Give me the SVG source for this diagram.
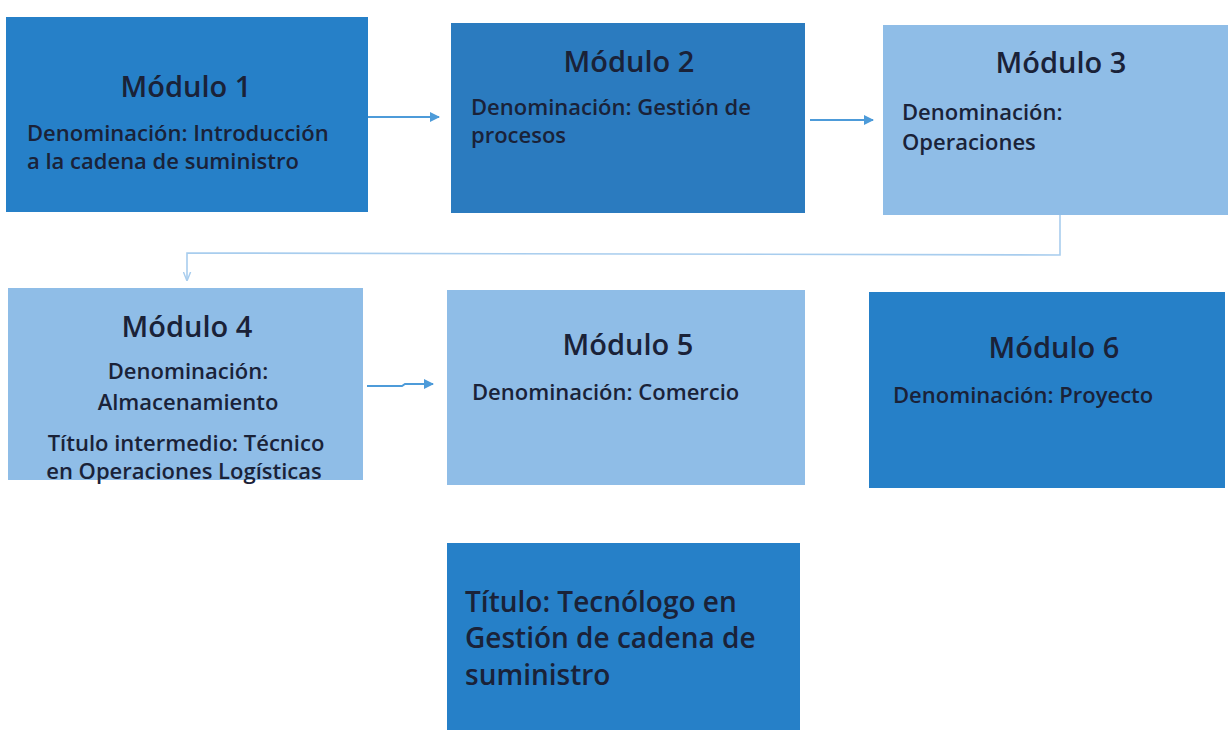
<svg xmlns="http://www.w3.org/2000/svg" width="1228" height="730" viewBox="0 0 1228 730">
<style>
.t{font-family:"Open Sans","Liberation Sans",sans-serif;fill:#1a2238;font-weight:600}
.h{font-size:29px;text-anchor:middle}
.b{font-size:22px}
.c{text-anchor:middle}
.big{font-size:28px}
.dark{fill:#2680c8}
.mid{fill:#2b7bbf}
.light{fill:#8fbde7}
.con{fill:none;stroke:#4d9bd9;stroke-width:2}
.con2{fill:none;stroke:#a8cdee;stroke-width:1.6}
</style>
<defs>
<marker id="ah" viewBox="0 0 10 10" refX="9" refY="5" markerWidth="11" markerHeight="10" orient="auto" markerUnits="userSpaceOnUse">
<path d="M0,0 L10,5 L0,10 Z" fill="#4d9bd9"/>
</marker>
<marker id="ah2" viewBox="0 0 10 10" refX="9" refY="5" markerWidth="9" markerHeight="9" orient="auto" markerUnits="userSpaceOnUse">
<path d="M0,1 L10,5 L0,9" fill="none" stroke="#a8cdee" stroke-width="1.6"/>
</marker>
</defs>
<rect width="1228" height="730" fill="#ffffff"/>
<g id="connectors">
<line class="con" x1="368" y1="117" x2="439" y2="117" marker-end="url(#ah)"/>
<line class="con" x1="810" y1="120" x2="873" y2="120" marker-end="url(#ah)"/>
<path class="con2" d="M1060,215 L1060,255 L187,253 L187,280" marker-end="url(#ah2)"/>
<path class="con" d="M367,386 L402,386 L405,384 L433,384" marker-end="url(#ah)"/>
</g>
<g id="modulo1">
<rect class="dark" x="6" y="17" width="362" height="195"/>
<text class="t h" x="186" y="97">Módulo 1</text>
<text class="t b" x="27" y="141">Denominación: Introducción</text>
<text class="t b" x="27" y="169">a la cadena de suministro</text>
</g>
<g id="modulo2">
<rect class="mid" x="451" y="23" width="354" height="190"/>
<text class="t h" x="629" y="72">Módulo 2</text>
<text class="t b" x="471" y="115">Denominación: Gestión de</text>
<text class="t b" x="471" y="143">procesos</text>
</g>
<g id="modulo3">
<rect class="light" x="883" y="25" width="345" height="190"/>
<text class="t h" x="1061" y="73">Módulo 3</text>
<text class="t b" x="902" y="120">Denominación:</text>
<text class="t b" x="902" y="150">Operaciones</text>
</g>
<g id="modulo4">
<rect class="light" x="8" y="288" width="355" height="192"/>
<text class="t h" x="187" y="337">Módulo 4</text>
<text class="t b c" x="188" y="379">Denominación:</text>
<text class="t b c" x="188" y="410">Almacenamiento</text>
<text class="t b c" x="186" y="451">Título intermedio: Técnico</text>
<text class="t b c" x="184" y="479">en Operaciones Logísticas</text>
</g>
<g id="modulo5">
<rect class="light" x="447" y="290" width="358" height="195"/>
<text class="t h" x="628" y="355">Módulo 5</text>
<text class="t b" x="472" y="400">Denominación: Comercio</text>
</g>
<g id="modulo6">
<rect class="dark" x="869" y="292" width="356" height="196"/>
<text class="t h" x="1054" y="358">Módulo 6</text>
<text class="t b" x="893" y="403">Denominación: Proyecto</text>
</g>
<g id="titulo">
<rect class="dark" x="447" y="543" width="353" height="187"/>
<text class="t big" x="465" y="612">Título: Tecnólogo en</text>
<text class="t big" x="465" y="648">Gestión de cadena de</text>
<text class="t big" x="465" y="685">suministro</text>
</g>
</svg>
